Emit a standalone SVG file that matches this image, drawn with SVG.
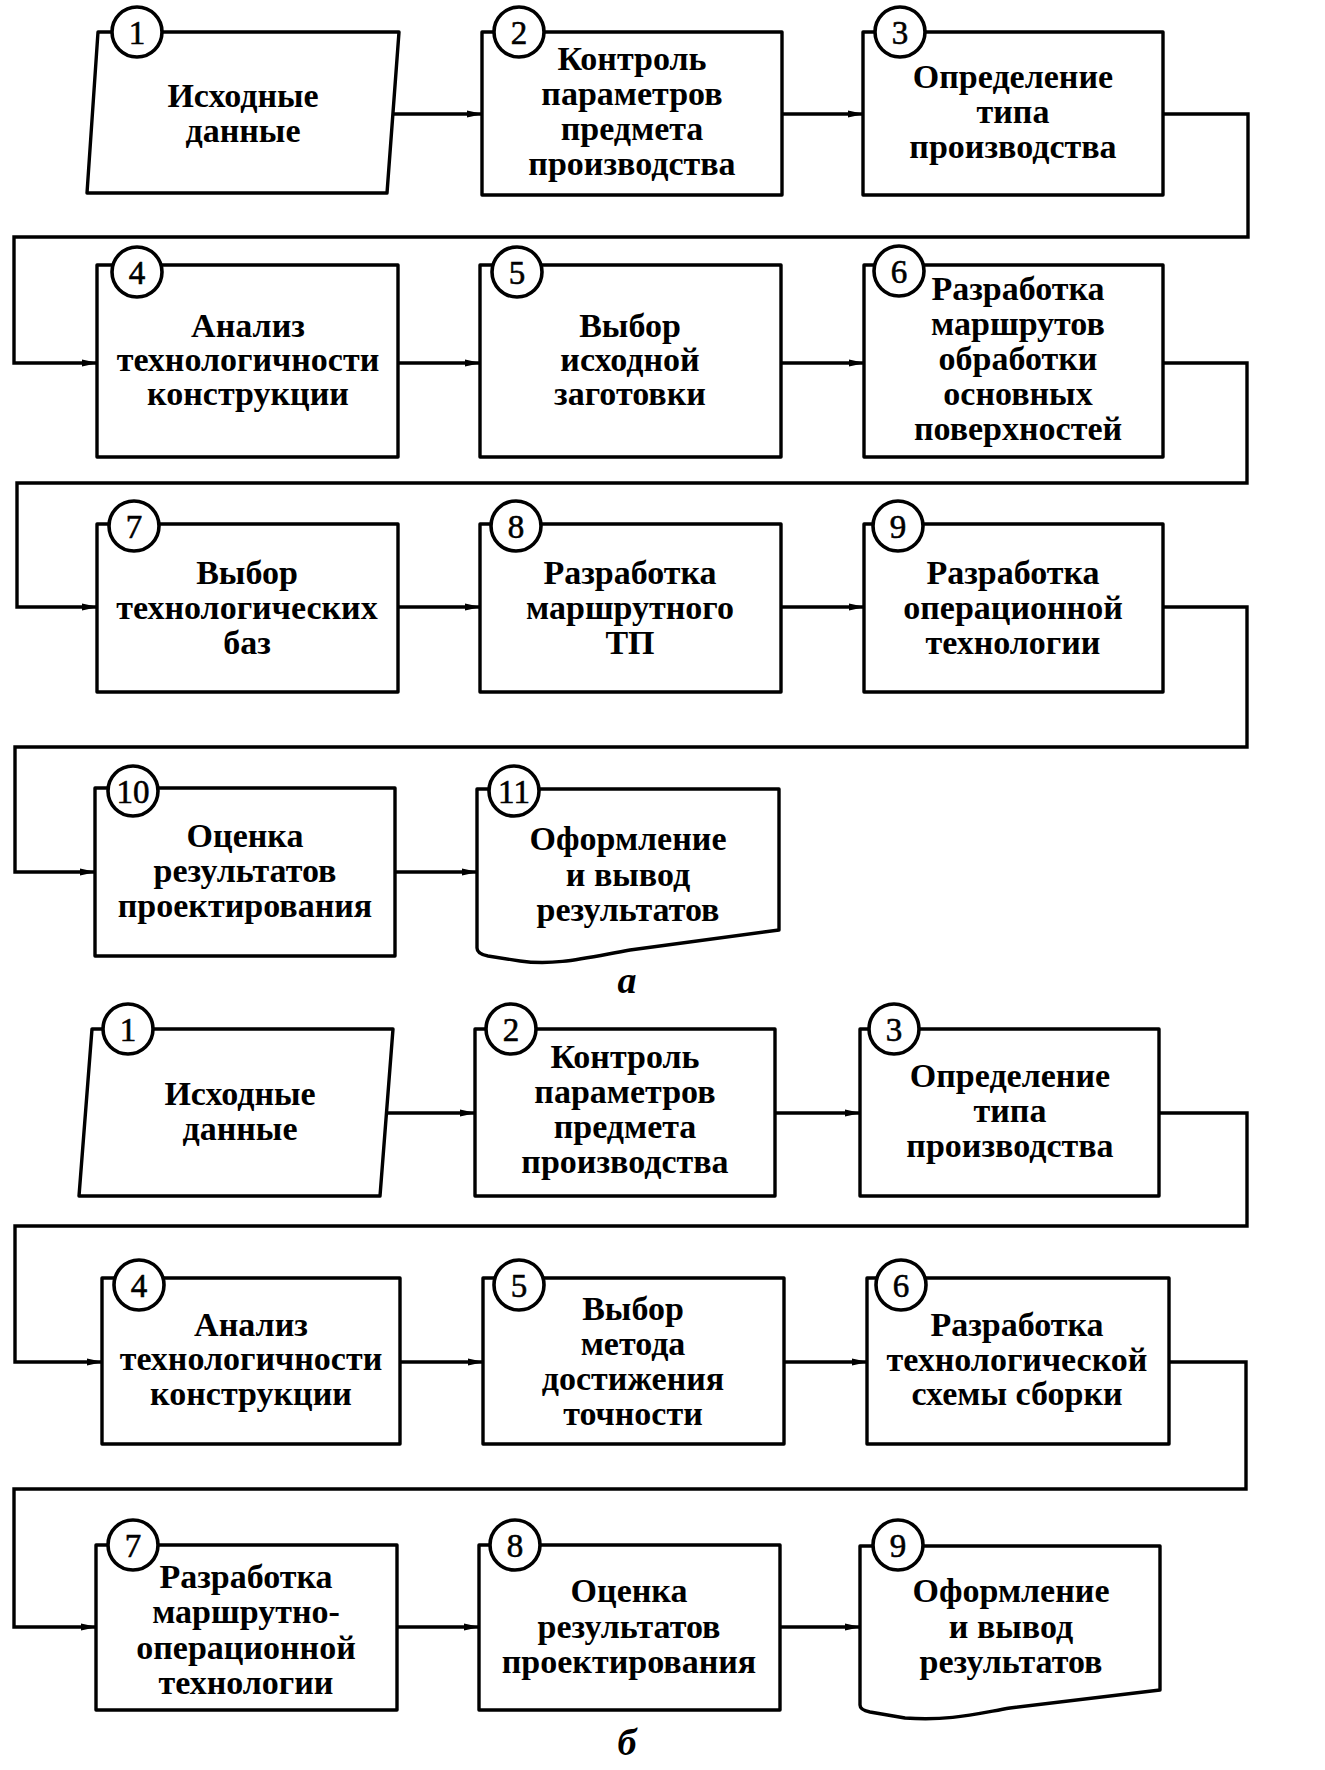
<svg xmlns="http://www.w3.org/2000/svg" width="1325" height="1770" viewBox="0 0 1325 1770">
<defs>
<marker id="ah" markerWidth="16" markerHeight="10" refX="15" refY="5" orient="auto" markerUnits="userSpaceOnUse">
<path d="M0,1.5 L16,5 L0,8.5 Z" fill="#000"/>
</marker>
<style>
.b{fill:#fff;stroke:#000;stroke-width:3.4;stroke-linejoin:round}
.c{fill:#fff;stroke:#000;stroke-width:3.6}
.n{font-family:"Liberation Serif","DejaVu Serif",serif;font-size:33px;text-anchor:middle;fill:#000;stroke:#000;stroke-width:0.6}
.t{font-family:"Liberation Serif","DejaVu Serif",serif;font-size:34px;font-weight:bold;text-anchor:middle;fill:#000}
.l{font-family:"Liberation Serif","DejaVu Serif",serif;font-size:38px;font-style:italic;font-weight:bold;text-anchor:middle;fill:#000}
.a{fill:none;stroke:#000;stroke-width:3.4;marker-end:url(#ah)}
</style>
</defs>
<rect width="1325" height="1770" fill="#fff"/>

<g id="connectors">
<path class="a" d="M393,114 H482"/>
<path class="a" d="M782,114 H863"/>
<path class="a" d="M1163,114 H1248 V237 H14 V363 H97"/>
<path class="a" d="M398,363 H480"/>
<path class="a" d="M781,363 H864"/>
<path class="a" d="M1163,363 H1247 V483 H17 V607 H97"/>
<path class="a" d="M398,607 H480"/>
<path class="a" d="M781,607 H864"/>
<path class="a" d="M1163,607 H1247 V747 H15 V872 H95"/>
<path class="a" d="M395,872 H477"/>
<path class="a" d="M386,1113 H475"/>
<path class="a" d="M775,1113 H860"/>
<path class="a" d="M1159,1113 H1247 V1226 H15 V1362 H102"/>
<path class="a" d="M400,1362 H483"/>
<path class="a" d="M784,1362 H867"/>
<path class="a" d="M1169,1362 H1246 V1489 H14 V1627 H96"/>
<path class="a" d="M397,1627 H479"/>
<path class="a" d="M780,1627 H860"/>
</g>

<!-- Part a -->
<g id="a1">
<path class="b" d="M98,32 L399,32 L387,193 L87,193 Z"/>
<circle class="c" cx="137" cy="32" r="25"/><text class="n" x="137" y="44">1</text>
<text class="t" x="243" y="107">Исходные</text>
<text class="t" x="243" y="142">данные</text>
</g>
<g id="a2">
<rect class="b" x="482" y="32" width="300" height="163"/>
<circle class="c" cx="519" cy="32" r="25"/><text class="n" x="519" y="44">2</text>
<text class="t" x="632" y="70">Контроль</text>
<text class="t" x="632" y="105">параметров</text>
<text class="t" x="632" y="140">предмета</text>
<text class="t" x="632" y="175">производства</text>
</g>
<g id="a3">
<rect class="b" x="863" y="32" width="300" height="163"/>
<circle class="c" cx="900" cy="32" r="25"/><text class="n" x="900" y="44">3</text>
<text class="t" x="1013" y="88">Определение</text>
<text class="t" x="1013" y="123">типа</text>
<text class="t" x="1013" y="158">производства</text>
</g>
<g id="a4">
<rect class="b" x="97" y="265" width="301" height="192"/>
<circle class="c" cx="137" cy="272" r="25"/><text class="n" x="137" y="284">4</text>
<text class="t" x="248" y="337">Анализ</text>
<text class="t" x="248" y="371">технологичности</text>
<text class="t" x="248" y="405">конструкции</text>
</g>
<g id="a5">
<rect class="b" x="480" y="265" width="301" height="192"/>
<circle class="c" cx="517" cy="272" r="25"/><text class="n" x="517" y="284">5</text>
<text class="t" x="630" y="337">Выбор</text>
<text class="t" x="630" y="371">исходной</text>
<text class="t" x="630" y="405">заготовки</text>
</g>
<g id="a6">
<rect class="b" x="864" y="265" width="299" height="192"/>
<circle class="c" cx="899" cy="271" r="25"/><text class="n" x="899" y="283">6</text>
<text class="t" x="1018" y="300">Разработка</text>
<text class="t" x="1018" y="335">маршрутов</text>
<text class="t" x="1018" y="370">обработки</text>
<text class="t" x="1018" y="405">основных</text>
<text class="t" x="1018" y="440">поверхностей</text>
</g>
<g id="a7">
<rect class="b" x="97" y="524" width="301" height="168"/>
<circle class="c" cx="134" cy="526" r="25"/><text class="n" x="134" y="538">7</text>
<text class="t" x="247" y="584">Выбор</text>
<text class="t" x="247" y="619">технологических</text>
<text class="t" x="247" y="654">баз</text>
</g>
<g id="a8">
<rect class="b" x="480" y="524" width="301" height="168"/>
<circle class="c" cx="516" cy="526" r="25"/><text class="n" x="516" y="538">8</text>
<text class="t" x="630" y="584">Разработка</text>
<text class="t" x="630" y="619">маршрутного</text>
<text class="t" x="630" y="654">ТП</text>
</g>
<g id="a9">
<rect class="b" x="864" y="524" width="299" height="168"/>
<circle class="c" cx="898" cy="526" r="25"/><text class="n" x="898" y="538">9</text>
<text class="t" x="1013" y="584">Разработка</text>
<text class="t" x="1013" y="619">операционной</text>
<text class="t" x="1013" y="654">технологии</text>
</g>
<g id="a10">
<rect class="b" x="95" y="788" width="300" height="168"/>
<circle class="c" cx="133" cy="791" r="25"/><text class="n" x="133" y="803">10</text>
<text class="t" x="245" y="847">Оценка</text>
<text class="t" x="245" y="882">результатов</text>
<text class="t" x="245" y="917">проектирования</text>
</g>
<g id="a11">
<path class="b" d="M477,789 H779 V930 L630,950 C585,958 555,966 520,961 L488,956 Q477,954 477,948 Z"/>
<circle class="c" cx="514" cy="791" r="25"/><text class="n" x="514" y="803">11</text>
<text class="t" x="628" y="850">Оформление</text>
<text class="t" x="628" y="886">и вывод</text>
<text class="t" x="628" y="921">результатов</text>
</g>
<text class="l" x="627" y="993">а</text>

<!-- Part b -->
<g id="b1">
<path class="b" d="M92,1029 L393,1029 L380,1196 L79,1196 Z"/>
<circle class="c" cx="128" cy="1029" r="25"/><text class="n" x="128" y="1041">1</text>
<text class="t" x="240" y="1105">Исходные</text>
<text class="t" x="240" y="1140">данные</text>
</g>
<g id="b2">
<rect class="b" x="475" y="1029" width="300" height="167"/>
<circle class="c" cx="511" cy="1029" r="25"/><text class="n" x="511" y="1041">2</text>
<text class="t" x="625" y="1068">Контроль</text>
<text class="t" x="625" y="1103">параметров</text>
<text class="t" x="625" y="1138">предмета</text>
<text class="t" x="625" y="1173">производства</text>
</g>
<g id="b3">
<rect class="b" x="860" y="1029" width="299" height="167"/>
<circle class="c" cx="894" cy="1029" r="25"/><text class="n" x="894" y="1041">3</text>
<text class="t" x="1010" y="1087">Определение</text>
<text class="t" x="1010" y="1122">типа</text>
<text class="t" x="1010" y="1157">производства</text>
</g>
<g id="b4">
<rect class="b" x="102" y="1278" width="298" height="166"/>
<circle class="c" cx="139" cy="1285" r="25"/><text class="n" x="139" y="1297">4</text>
<text class="t" x="251" y="1336">Анализ</text>
<text class="t" x="251" y="1370">технологичности</text>
<text class="t" x="251" y="1405">конструкции</text>
</g>
<g id="b5">
<rect class="b" x="483" y="1278" width="301" height="166"/>
<circle class="c" cx="519" cy="1285" r="25"/><text class="n" x="519" y="1297">5</text>
<text class="t" x="633" y="1320">Выбор</text>
<text class="t" x="633" y="1355">метода</text>
<text class="t" x="633" y="1390">достижения</text>
<text class="t" x="633" y="1425">точности</text>
</g>
<g id="b6">
<rect class="b" x="867" y="1278" width="302" height="166"/>
<circle class="c" cx="901" cy="1285" r="25"/><text class="n" x="901" y="1297">6</text>
<text class="t" x="1017" y="1336">Разработка</text>
<text class="t" x="1017" y="1371">технологической</text>
<text class="t" x="1017" y="1405">схемы сборки</text>
</g>
<g id="b7">
<rect class="b" x="96" y="1545" width="301" height="165"/>
<circle class="c" cx="133" cy="1545" r="25"/><text class="n" x="133" y="1557">7</text>
<text class="t" x="246" y="1588">Разработка</text>
<text class="t" x="246" y="1623">маршрутно-</text>
<text class="t" x="246" y="1659">операционной</text>
<text class="t" x="246" y="1694">технологии</text>
</g>
<g id="b8">
<rect class="b" x="479" y="1545" width="301" height="165"/>
<circle class="c" cx="515" cy="1545" r="25"/><text class="n" x="515" y="1557">8</text>
<text class="t" x="629" y="1602">Оценка</text>
<text class="t" x="629" y="1638">результатов</text>
<text class="t" x="629" y="1673">проектирования</text>
</g>
<g id="b9">
<path class="b" d="M860,1546 H1160 V1690 L1010,1708 C975,1714 950,1721 905,1718 L870,1712 Q860,1710 860,1705 Z"/>
<circle class="c" cx="898" cy="1545" r="25"/><text class="n" x="898" y="1557">9</text>
<text class="t" x="1011" y="1602">Оформление</text>
<text class="t" x="1011" y="1638">и вывод</text>
<text class="t" x="1011" y="1673">результатов</text>
</g>
<text class="l" x="627" y="1755">б</text>
</svg>
